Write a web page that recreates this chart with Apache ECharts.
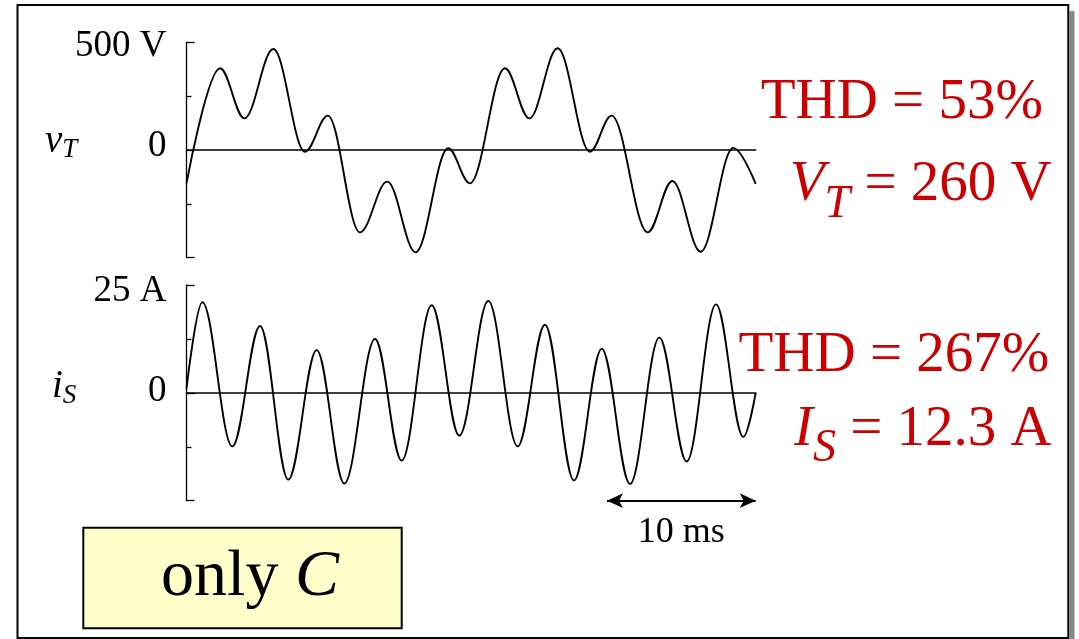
<!DOCTYPE html>
<html><head><meta charset="utf-8">
<script src="https://cdn.jsdelivr.net/npm/echarts@6/dist/echarts.min.js"></script>
<style>html,body{margin:0;padding:0;background:#fff}#c{width:1079px;height:639px}</style>
</head><body><div id="c"></div>
<script>
// time (ms) of each turning point of the terminal voltage and its value (V)
const tV = [0, 2.36, 4.07, 6.10, 8.33, 9.93, 12.19, 14.11, 16.10, 18.39, 19.92, 22.38, 24.09, 26.08, 28.35, 29.87, 32.41, 34.14, 36.13, 38.42, 40];
const vT = [-155, 380, 147, 470, -8, 160, -383, -147, -476, 8, -155, 380, 147, 473, -8, 160, -383, -144, -473, 10, -158];
// time (ms) of each turning point of the source current and its value (A)
const tI = [0, 1.11, 3.22, 5.17, 7.15, 9.15, 11.09, 13.25, 15.12, 17.23, 19.17, 21.21, 23.27, 25.19, 27.23, 29.18, 31.17, 33.23, 35.15, 37.21, 39.13, 40];
const iS = [1, 21.0, -12.4, 15.5, -20.1, 9.9, -21.0, 12.5, -15.7, 20.3, -9.9, 21.3, -12.4, 15.8, -20.3, 10.2, -21.1, 12.8, -15.9, 20.5, -10.2, 0];
// axis tick labels
const vTickLabels = ['500 V', '0'];
const iTickLabels = ['25 A', '0'];
const vRange = [-500, 500];
const iRange = [-25, 25];
const timeRange = [0, 40];
// 10 ms scale bar
const scaleBarMs = [29.55, 40];
const scaleBarLabel = '10 ms';
// annotations
const thdV = 'THD = 53%';
const rmsV = ' = 260 V';
const thdI = 'THD = 267%';
const rmsI = ' = 12.3 A';

const FONT = "'Liberation Serif', 'DejaVu Serif', serif";
const RED = '#cc0000';

function pairs(t, v) { return t.map((x, i) => [x, v[i]]); }

const chart = echarts.init(document.getElementById('c'), null, {renderer: 'canvas'});

function yAxisFor(grid, range, labels, topPad, zeroPad) {
  return {
    type: 'value', gridIndex: grid, min: range[0], max: range[1], interval: range[1],
    axisLine: {show: true, onZero: false, lineStyle: {color: '#000', width: 1.3}},
    axisTick: {show: true, inside: true, length: 8, lineStyle: {color: '#000', width: 1.3}},
    minorTick: {show: true, splitNumber: 2, length: 5, lineStyle: {color: '#000', width: 1.3}},
    splitLine: {show: false}, minorSplitLine: {show: false},
    axisLabel: {
      margin: 20, color: '#000', fontFamily: FONT, fontSize: 37,
      formatter: v => v === range[1] ? '{t|' + labels[0] + '}' : (v === 0 ? '{z|' + labels[1] + '}' : ''),
      rich: {
        t: {fontFamily: FONT, fontSize: 37, color: '#000', padding: [topPad, 0, 0, 0]},
        z: {fontFamily: FONT, fontSize: 37, color: '#000', padding: [0, 0, zeroPad, 0]}
      }
    }
  };
}
function xAxisFor(grid) {
  return {
    type: 'value', gridIndex: grid, min: timeRange[0], max: timeRange[1],
    axisLine: {show: true, onZero: true, lineStyle: {color: '#000', width: 1.5}},
    axisTick: {show: false}, axisLabel: {show: false}, splitLine: {show: false}
  };
}

const option = {
  animation: false,
  backgroundColor: '#fff',
  grid: [
    {left: 186.5, top: 42.5, width: 569.2, height: 215},
    {left: 186.5, top: 285, width: 569.2, height: 215.7}
  ],
  xAxis: [xAxisFor(0), xAxisFor(1)],
  yAxis: [yAxisFor(0, vRange, vTickLabels, 8, 8), yAxisFor(1, iRange, iTickLabels, 12, 4)],
  series: [
    {
      type: 'line', xAxisIndex: 0, yAxisIndex: 0, data: pairs(tV, vT),
      showSymbol: false, smooth: 0.36, smoothMonotone: 'x', silent: true,
      lineStyle: {color: '#000', width: 1.9}
    },
    {
      type: 'line', xAxisIndex: 1, yAxisIndex: 1, data: pairs(tI, iS),
      showSymbol: false, smooth: 0.36, smoothMonotone: 'x', silent: true, clip: false,
      lineStyle: {color: '#000', width: 1.9},
      markLine: {
        silent: true, animation: false, symbol: ['arrow', 'arrow'], symbolSize: [11, 16],
        lineStyle: {color: '#000', width: 2, type: 'solid'},
        label: {show: true, position: 'insideMiddleBottom', formatter: scaleBarLabel, color: '#000',
                fontFamily: FONT, fontSize: 36, distance: 14},
        emphasis: {disabled: true},
        data: [[{coord: [scaleBarMs[0], iRange[0]]}, {coord: [scaleBarMs[1], iRange[0]]}]]
      }
    }
  ],
  graphic: [
    {type: 'rect', z: -10, silent: true, shape: {x: 1069.5, y: 11, width: 5, height: 628}, style: {fill: '#888'}},
    {type: 'rect', z: -5, silent: true, shape: {x: 17.5, y: 5, width: 1050.8, height: 633}, style: {fill: '#fff', stroke: '#000', lineWidth: 2}},
    {type: 'rect', silent: true, shape: {x: 83.3, y: 527.7, width: 318.4, height: 100.6}, style: {fill: '#ffffcc', stroke: '#000', lineWidth: 2}},
    {type: 'text', silent: true, x: 250, y: 577.7, style: {
      text: '{n|only }{i|C}', align: 'center', verticalAlign: 'middle',
      rich: {n: {fontFamily: FONT, fontSize: 66, fill: '#000'}, i: {fontFamily: FONT, fontSize: 66, fontStyle: 'italic', fill: '#000'}}
    }},
    {type: 'text', silent: true, x: 45, y: 142, style: {
      text: '{m|v}{s|T}', align: 'left', verticalAlign: 'middle',
      rich: {m: {fontFamily: FONT, fontSize: 39, fontStyle: 'italic', fill: '#000', lineHeight: 42},
             s: {fontFamily: FONT, fontSize: 27, fontStyle: 'italic', fill: '#000', lineHeight: 27, verticalAlign: 'bottom'}}
    }},
    {type: 'text', silent: true, x: 52, y: 386.5, style: {
      text: '{m|i}{s|S}', align: 'left', verticalAlign: 'middle',
      rich: {m: {fontFamily: FONT, fontSize: 39, fontStyle: 'italic', fill: '#000', lineHeight: 46},
             s: {fontFamily: FONT, fontSize: 27, fontStyle: 'italic', fill: '#000', lineHeight: 27, verticalAlign: 'bottom'}}
    }},
    {type: 'text', silent: true, x: 1043, y: 103.3, style: {
      text: thdV, align: 'right', verticalAlign: 'middle', font: "57px " + FONT, fill: RED
    }},
    {type: 'text', silent: true, x: 1051.7, y: 185.5, style: {
      text: '{m|V}{s|T}{n|' + rmsV + '}', align: 'right', verticalAlign: 'middle',
      rich: {m: {fontFamily: FONT, fontSize: 57, fontStyle: 'italic', fill: RED, lineHeight: 84},
             s: {fontFamily: FONT, fontSize: 46, fontStyle: 'italic', fill: RED, lineHeight: 46, verticalAlign: 'bottom'},
             n: {fontFamily: FONT, fontSize: 57, fill: RED, lineHeight: 84}}
    }},
    {type: 'text', silent: true, x: 1049.3, y: 356, style: {
      text: thdI, align: 'right', verticalAlign: 'middle', font: "57px " + FONT, fill: RED
    }},
    {type: 'text', silent: true, x: 1051.7, y: 430, style: {
      text: '{m|I}{s|S}{n|' + rmsI + '}', align: 'right', verticalAlign: 'middle',
      rich: {m: {fontFamily: FONT, fontSize: 57, fontStyle: 'italic', fill: RED, lineHeight: 84},
             s: {fontFamily: FONT, fontSize: 46, fontStyle: 'italic', fill: RED, lineHeight: 46, verticalAlign: 'bottom'},
             n: {fontFamily: FONT, fontSize: 57, fill: RED, lineHeight: 84}}
    }}
  ]
};
chart.setOption(option);
</script>
</body></html>
